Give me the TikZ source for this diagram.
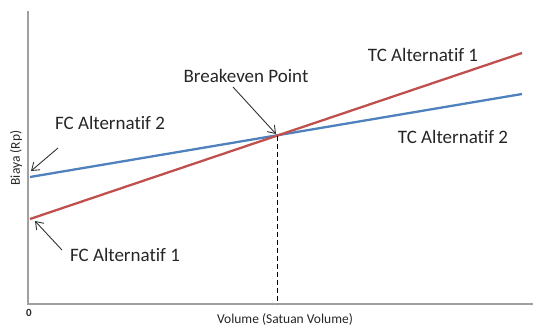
\documentclass[tikz,border=0pt]{standalone}
\usepackage{fontspec}
\setmainfont[Ligatures=NoCommon]{Carlito}
\usetikzlibrary{arrows.meta}
\definecolor{tcred}{RGB}{192,80,77}
\definecolor{tcblue}{RGB}{79,129,189}
\definecolor{axisgray}{RGB}{160,160,160}
\begin{document}
\begin{tikzpicture}[x=1pt,y=-1pt,
  axisline/.style={draw=axisgray,line width=1.3pt},
  costline/.style={line width=2.3pt},
  lbl/.style={font=\fontsize{19}{21}\selectfont,text=black!85,inner sep=0pt},
  axlbl/.style={font=\fontsize{13.5}{15}\selectfont,text=black!85,inner sep=0pt},
  pointer/.style={-{Straight Barb[length=7pt,width=10pt]},line width=0.9pt,draw=black!80}]
  \useasboundingbox (0,0) rectangle (533,327);
  % axes
  \coordinate (origin) at (28,304);
  \coordinate (ytop) at (28,11);
  \coordinate (xend) at (533,304);
  \draw[axisline] (ytop) -- (origin) -- (xend);
  % cost lines
  \coordinate (fc1) at (30,219);
  \coordinate (tc1) at (522,53);
  \coordinate (fc2) at (30,177);
  \coordinate (tc2) at (522,94);
  \coordinate (bep) at (277,136);
  \coordinate (bepfoot) at (277,304);
  \draw[costline,tcblue] (fc2) -- (tc2);
  \draw[costline,tcred] (fc1) -- (tc1);
  \draw[dashed,line width=0.9pt,dash pattern=on 5pt off 3pt] (bep) -- (bepfoot);
  % labels
  \node[lbl] (lfc2) at (110,123) {FC Alternatif 2};
  \node[lbl] (lfc1) at (125,255) {FC Alternatif 1};
  \node[lbl] (lbep) at (246,76) {Breakeven Point};
  \node[lbl] (ltc1) at (423,55) {TC Alternatif 1};
  \node[lbl] (ltc2) at (453,137) {TC Alternatif 2};
  \node[axlbl,rotate=90] (ylab) at (16,158) {Biaya (Rp)};
  \node[axlbl] (xlab) at (285,319) {Volume (Satuan Volume)};
  \node[axlbl,font=\fontsize{11}{13}\selectfont\bfseries] (zero) at (29,313) {0};
  % pointers
  \coordinate (p2s) at (58,148);
  \coordinate (p2e) at (31,171);
  \coordinate (p1s) at (62,250);
  \coordinate (p1e) at (35,221);
  \coordinate (pbs) at (233,87);
  \coordinate (pbe) at (276,134);
  \draw[pointer] (p2s) -- (p2e);
  \draw[pointer] (p1s) -- (p1e);
  \draw[pointer] (pbs) -- (pbe);
\end{tikzpicture}
\end{document}
